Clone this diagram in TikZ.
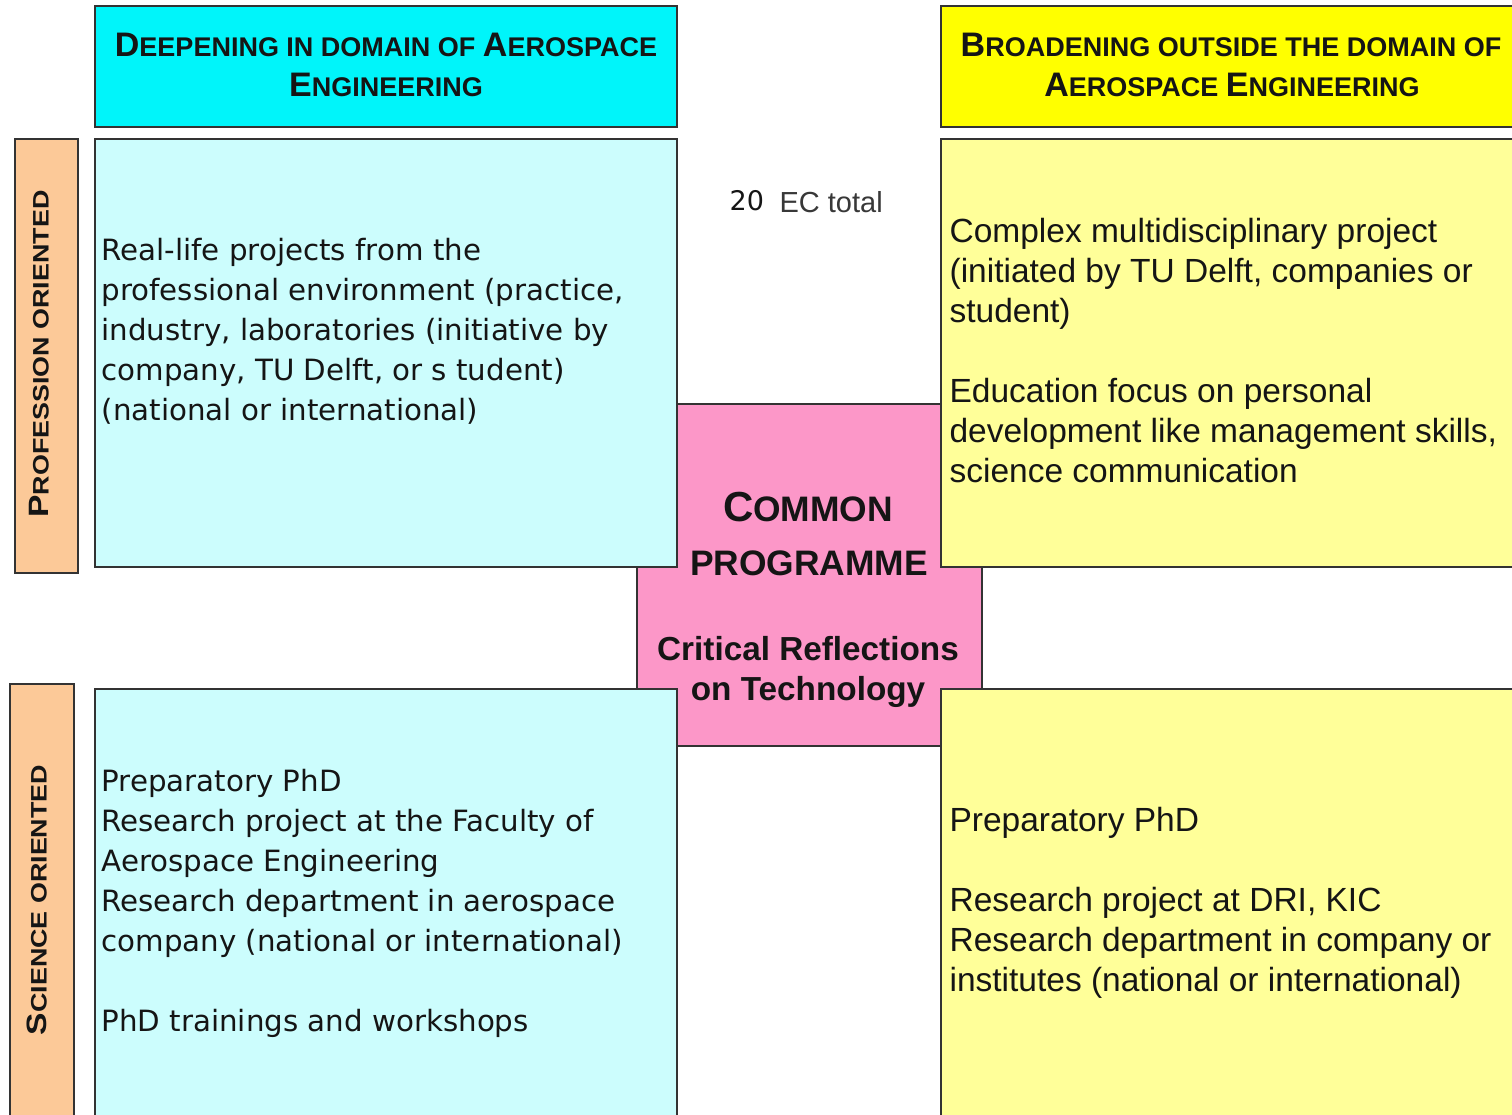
\documentclass[tikz,border=0pt]{standalone}
\usepackage{fontspec}
\setmainfont{Liberation Sans}
\newfontfamily\dvsans{DejaVu Sans}
\definecolor{hdcyan}{HTML}{00F5FA}
\definecolor{ltcyan}{HTML}{CCFDFD}
\definecolor{hdyellow}{HTML}{FFFF00}
\definecolor{ltyellow}{HTML}{FFFF99}
\definecolor{peach}{HTML}{FCC998}
\definecolor{pinkc}{HTML}{FC97C8}
\definecolor{bordc}{HTML}{333333}
\definecolor{txtc}{HTML}{151515}
\newcommand\hbig[1]{{\fontsize{34}{40}\selectfont #1}}
\newcommand\hsml[1]{{\fontsize{27}{40}\selectfont #1}}
\newcommand\vbig[1]{{\fontsize{28}{34}\selectfont #1}}
\newcommand\vsml[1]{{\fontsize{22.4}{34}\selectfont #1}}
\begin{document}
\begin{tikzpicture}[x=1pt,y=-1pt,line width=1.2pt,
  box/.style={draw=bordc},
  body/.style={anchor=north west,inner sep=0pt,align=left,text=txtc},
  dvbody/.style={body,font=\dvsans\fontsize{29.3}{40}\selectfont},
  arbody/.style={body,font=\fontsize{33.5}{40}\selectfont},
  head/.style={anchor=base,inner sep=0pt,text=txtc,font=\bfseries},
  ctr/.style={anchor=base,inner sep=0pt,text=txtc,font=\bfseries},
  vlab/.style={rotate=90,inner sep=0pt,text=txtc,font=\bfseries}]
\useasboundingbox (0,0) rectangle (1512,1115);
\fill[white] (0,0) rectangle (1512,1115);
\begin{scope}
\clip (0,0) rectangle (1512,1115);
% central cross
\draw[box,fill=pinkc] (677,404) -- (941,404) -- (941,567) -- (982,567) -- (982,689)
  -- (941,689) -- (941,746) -- (677,746) -- (677,689) -- (637,689) -- (637,567)
  -- (677,567) -- cycle;
% headers
\draw[box,fill=hdcyan] (95,6) rectangle (677,127);
\draw[box,fill=hdyellow] (941,6) rectangle (1525,127);
% side labels
\draw[box,fill=peach] (15,139) rectangle (78,573);
\draw[box,fill=peach] (10,684) rectangle (74,1125);
% quadrants
\draw[box,fill=ltcyan] (95,139) rectangle (677,567);
\draw[box,fill=ltyellow] (941,139) rectangle (1525,567);
\draw[box,fill=ltcyan] (95,689) rectangle (677,1125);
\draw[box,fill=ltyellow] (941,689) rectangle (1525,1125);
\end{scope}
% header texts
\node[head] (hl1) at (386,57) {\hbig{D}\hsml{EEPENING IN DOMAIN OF }\hbig{A}\hsml{EROSPACE}};
\node[head] (hl2) at (386,97) {\hbig{E}\hsml{NGINEERING}};
\node[head] (hr1) at (1231,57) {\hbig{B}\hsml{ROADENING OUTSIDE THE DOMAIN OF}};
\node[head] (hr2) at (1232,97) {\hbig{A}\hsml{EROSPACE }\hbig{E}\hsml{NGINEERING}};
% side label texts
\node[vlab] (vp) at (39,354) {\scalebox{1.2}[1]{\vbig{P}\vsml{ROFESSION ORIENTED}}};
\node[vlab] (vs) at (37,900) {\scalebox{1.2}[1]{\vbig{S}\vsml{CIENCE ORIENTED}}};
% EC total
\node[anchor=base west,inner sep=0pt,text=txtc,font=\dvsans\fontsize{27}{30}\selectfont] (ec20) at (729,211) {20};
\node[anchor=base west,inner sep=0pt,text=txtc!85,font=\fontsize{29}{34}\selectfont] (ectot) at (779,213) {EC total};
% quadrant texts
\node[dvbody] (tltext) at (101,232) {\rule{0pt}{28pt}Real-life projects from the\\
professional environment (practice,\\
industry, laboratories (initiative by\\
company, TU Delft, or s tudent)\\
(national or international)};
\node[arbody] (trtext) at (949,214) {\rule{0pt}{28pt}Complex multidisciplinary project\\
(initiated by TU Delft, companies or\\
student)\\[40pt]
Education focus on personal\\
development like management skills,\\
science communication};
\node[dvbody] (bltext) at (101,763) {\rule{0pt}{28pt}Preparatory PhD\\
Research project at the Faculty of\\
Aerospace Engineering\\
Research department in aerospace\\
company (national or international)\\[40pt]
PhD trainings and workshops};
\node[arbody] (brtext) at (949,803) {\rule{0pt}{28pt}Preparatory PhD\\[40pt]
Research project at DRI, KIC\\
Research department in company or\\
institutes (national or international)};
% centre texts
\node[ctr] (cm1) at (808,521) {{\fontsize{42}{48}\selectfont C}{\fontsize{35.4}{48}\selectfont OMMON}};
\node[ctr] (cm2) at (809,575) {\fontsize{35.4}{48}\selectfont PROGRAMME};
\node[ctr] (cr1) at (808,660) {\fontsize{33.3}{40}\selectfont Critical Reflections};
\node[ctr] (cr2) at (808,700) {\fontsize{33.3}{40}\selectfont on Technology};
\end{tikzpicture}
\end{document}
